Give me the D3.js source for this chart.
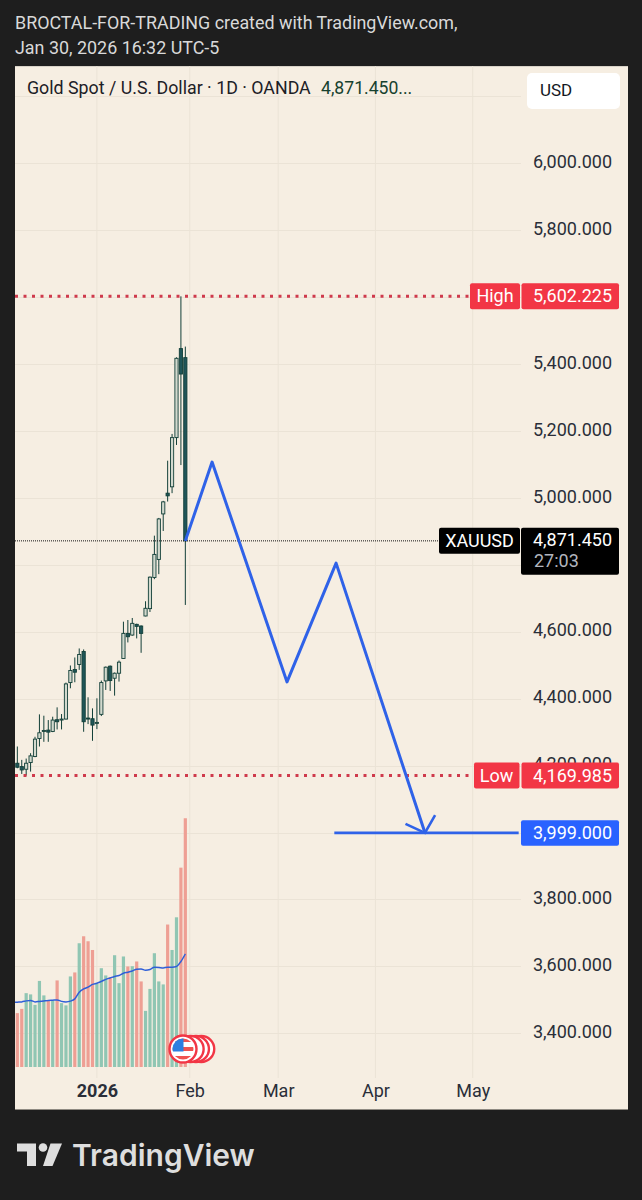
<!DOCTYPE html>
<html>
<head>
<meta charset="utf-8">
<script src="https://cdn.jsdelivr.net/npm/d3@7"></script>
<style>
  html, body { margin: 0; padding: 0; background: #1e1e1e; }
  svg { display: block; font-family: Roboto, sans-serif; }
</style>
</head>
<body>
<div id="chart"></div>
<script>
// Daily candles, oldest first
var opens = [4207,4197,4189,4209,4227,4281,4304,4306,4302,4337,4338,4339,4448,4487,4502,4541,4342,4340,4327,4353,4453,4497,4461,4476,4520,4595,4590,4622,4617,4647,4669,4762,4816,4952,5014,5033,5180,5446,5419];
var highs = [4257,4217,4221,4237,4286,4353,4349,4336,4346,4374,4354,4448,4499,4523,4550,4547,4404,4371,4401,4454,4496,4499,4478,4514,4630,4635,4641,4624,4619,4691,4765,4887,4940,4991,5111,5191,5420,5602.225,5452];
var lows = [4192,4175,4169.985,4182,4225,4257,4271,4271,4300,4308,4308,4338,4431,4449,4486,4301,4324,4274,4309,4348,4426,4423,4409,4451,4519,4568,4588,4580,4537,4646,4659,4757,4772,4901,4989,5014,5158,5098,4680];
var closes = [4195,4187,4207,4229,4279,4298,4305,4300,4336,4331,4339,4444,4484,4479,4532,4331,4340,4321,4329,4448,4494,4454,4476,4509,4595,4585,4625,4616,4595,4670,4763,4831,4937,4988,5006,5180,5417,5370,4871.45];
var volumes = [216,233,296,291,249,345,287,267,267,347,256,247,363,379,496,524,504,469,333,396,367,360,448,336,443,403,404,423,343,225,313,456,343,331,571,469,600,799,997];
var volumeMa = [260,261,265,267,261,263,265,267,268,269,263,261,264,273,300,313,320,331,336,343,351,357,363,367,376,380,385,392,393,388,391,400,399,397,400,400,403,423,453];
var volumeMaStart = 259;

var priceTicks = [6000,5800,5600,5400,5200,5000,4800,4600,4400,4200,4000,3800,3600,3400];
var shownPriceTicks = [6000,5800,5400,5200,5000,4600,4400,4200,3800,3600,3400];
var gridOnlyPrice = [6200];
var monthBars = [18,39,59,81,103];
var monthLabels = ["2026","Feb","Mar","Apr","May"];

var highPrice = 5602.225, lowPrice = 4169.985, lastPrice = 4871.45, targetPrice = 3999;
// Hand drawn projection: bar number and price
var pathBars = [38,44.05,61,72.1,92.2];
var pathPrices = [4871.45,5107,4450,4805,3999];
var arrowBars = [87.8,92.2,94.5];
var arrowPrices = [4026,3999,4052];
var targetBars = [71.7,113.4];

var width = 642, height = 1200;
var plotL = 15, plotR = 628, plotT = 66, plotB = 1110, paneR = 521;
var cream = "#f6eee2", gridCol = "#ebe3d6";
var labelSize = 18;

var svg = d3.select("#chart").append("svg").attr("width", width).attr("height", height);
svg.append("rect").attr("width", width).attr("height", height).attr("fill", "#1e1e1e");

svg.append("defs").append("clipPath").attr("id", "pane")
  .append("rect").attr("x", plotL).attr("y", plotT).attr("width", paneR - plotL).attr("height", plotB - plotT);

// Bars are evenly spaced by number, weekends do not exist here
var x = d3.scaleLinear().domain([0, 38]).range([17.33, 185.33]);
var y = d3.scaleLinear().domain([3400, 6000]).range([1033.3, 163.2]);
var yVol = d3.scaleLinear().domain([0, 1000]).range([1067, 817.5]);

svg.append("text").attr("x", 15).attr("y", 29).attr("fill", "#d9d9d9").attr("font-size", 17.9)
  .text("BROCTAL-FOR-TRADING created with TradingView.com,");
svg.append("text").attr("x", 15).attr("y", 54).attr("fill", "#d9d9d9").attr("font-size", 17.9)
  .text("Jan 30, 2026 16:32 UTC-5");

svg.append("rect").attr("x", plotL).attr("y", plotT).attr("width", plotR - plotL).attr("height", plotB - plotT)
  .attr("fill", cream);
svg.append("line").attr("x1", plotL).attr("x2", plotR).attr("y1", plotB - 0.5).attr("y2", plotB - 0.5)
  .attr("stroke", "#8f8a82");
svg.append("line").attr("x1", plotL).attr("x2", plotR).attr("y1", plotT + 0.5).attr("y2", plotT + 0.5)
  .attr("stroke", "#d8d2c8");

// grid
svg.append("g").selectAll("line").data(gridOnlyPrice.concat(priceTicks)).join("line")
  .attr("x1", plotL).attr("x2", paneR)
  .attr("y1", d => Math.round(y(d)) + 0.5).attr("y2", d => Math.round(y(d)) + 0.5)
  .attr("stroke", gridCol);
svg.append("g").selectAll("line").data(monthBars).join("line")
  .attr("x1", d => x(d)).attr("x2", d => x(d))
  .attr("y1", plotT).attr("y2", 1078)
  .attr("stroke", gridCol);

var pane = svg.append("g").attr("clip-path", "url(#pane)");

// volume
pane.selectAll(".vol").data(volumes).join("rect").attr("class", "vol")
  .attr("x", (d, i) => x(i) - 1.6).attr("width", 3.2)
  .attr("y", d => yVol(d)).attr("height", d => yVol(0) - yVol(d))
  .attr("fill", (d, i) => closes[i] >= opens[i] ? "#90c6b3" : "#ee9f94");

// volume moving average, it comes in from the bar before the left edge
var maLine = d3.line().x(d => x(d[0])).y(d => yVol(d[1])).curve(d3.curveMonotoneX);
var maPts = [[-1, volumeMaStart]].concat(volumeMa.map((d, i) => [i, d]));
pane.append("path").attr("d", maLine(maPts)).attr("fill", "none")
  .attr("stroke", "#2f5fd8").attr("stroke-width", 1.5);

// candles
var candleCol = "#123f38";
pane.selectAll(".wick").data(d3.range(opens.length)).join("line").attr("class", "wick")
  .attr("x1", i => x(i)).attr("x2", i => x(i))
  .attr("y1", i => y(highs[i])).attr("y2", i => y(lows[i]))
  .attr("stroke", candleCol).attr("stroke-width", 1);
pane.selectAll(".body").data(d3.range(opens.length)).join("rect").attr("class", "body")
  .attr("x", i => x(i) - 1.6).attr("width", 3.2)
  .attr("y", i => y(Math.max(opens[i], closes[i])))
  .attr("height", i => Math.max(1, Math.abs(y(opens[i]) - y(closes[i]))))
  .attr("fill", i => closes[i] >= opens[i] ? "#d3d9ce" : "#1f5558")
  .attr("stroke", candleCol).attr("stroke-width", 0.9);

// last price line
svg.append("line").attr("x1", plotL).attr("x2", 439).attr("y1", y(lastPrice)).attr("y2", y(lastPrice))
  .attr("stroke", "#111").attr("stroke-width", 1).attr("stroke-dasharray", "1 1");

// high and low lines
svg.append("g").selectAll("line").data([highPrice, lowPrice]).join("line")
  .attr("x1", plotL).attr("x2", 470)
  .attr("y1", d => y(d)).attr("y2", d => y(d))
  .attr("stroke", "#cf3a4c").attr("stroke-width", 3).attr("stroke-dasharray", "3 5.5");

// projection drawn over the chart
var projLine = d3.line().x(d => x(d[0])).y(d => y(d[1]));
var projCol = "#2f62e8";
svg.append("path").attr("d", projLine(pathBars.map((d, i) => [d, pathPrices[i]])))
  .attr("fill", "none").attr("stroke", projCol).attr("stroke-width", 3).attr("stroke-linejoin", "round");
svg.append("path").attr("d", projLine(arrowBars.map((d, i) => [d, arrowPrices[i]])))
  .attr("fill", "none").attr("stroke", projCol).attr("stroke-width", 2.6);
svg.append("line")
  .attr("x1", x(targetBars[0])).attr("x2", x(targetBars[1]))
  .attr("y1", y(targetPrice)).attr("y2", y(targetPrice))
  .attr("stroke", projCol).attr("stroke-width", 2.6);

// price axis
var yAxis = d3.axisRight(y).tickValues(shownPriceTicks).tickSize(0).tickFormat(d3.format(",.3f"));
var yAxisG = svg.append("g").attr("transform", "translate(612,-1.5)").call(yAxis);
yAxisG.select(".domain").remove();
yAxisG.selectAll("text").attr("x", 0).attr("text-anchor", "end")
  .attr("font-family", "Roboto, sans-serif").attr("font-size", labelSize).attr("fill", "#2a2e39");

// time axis
var xAxis = d3.axisBottom(x).tickValues(monthBars).tickSize(0)
  .tickFormat((d, i) => monthLabels[i]);
var xAxisG = svg.append("g").attr("transform", "translate(0,1078)").call(xAxis);
xAxisG.select(".domain").remove();
xAxisG.selectAll("text").attr("y", 6).attr("font-family", "Roboto, sans-serif").attr("font-size", labelSize)
  .attr("fill", "#2a2e39").attr("font-weight", (d, i) => i == 0 ? 700 : 400);

// price tags
function tag(x0, x1, yTop, yBot, col, txt, txtX, anchor) {
  svg.append("rect").attr("x", x0).attr("y", yTop).attr("width", x1 - x0).attr("height", yBot - yTop)
    .attr("rx", 2).attr("fill", col);
  svg.append("text").attr("x", txtX).attr("y", (yTop + yBot) / 2 + 6).attr("text-anchor", anchor)
    .attr("font-size", labelSize).attr("fill", "#fff").text(txt);
}
var fmt = d3.format(",.3f");
tag(470, 520, y(highPrice) - 13, y(highPrice) + 13, "#f23645", "High", 495, "middle");
tag(521.5, 619, y(highPrice) - 13, y(highPrice) + 13, "#f23645", fmt(highPrice), 612, "end");
tag(474, 519.5, y(lowPrice) - 13, y(lowPrice) + 13, "#f23645", "Low", 496.5, "middle");
tag(521.5, 619, y(lowPrice) - 13, y(lowPrice) + 13, "#f23645", fmt(lowPrice), 612, "end");
tag(521, 619, y(targetPrice) - 12.5, y(targetPrice) + 13, "#2962ff", fmt(targetPrice), 612, "end");
tag(439, 520, y(lastPrice) - 13, y(lastPrice) + 13, "#000", "XAUUSD", 479.5, "middle");
svg.append("rect").attr("x", 521).attr("y", y(lastPrice) - 13).attr("width", 98).attr("height", 47)
  .attr("rx", 2).attr("fill", "#000");
svg.append("text").attr("x", 612).attr("y", y(lastPrice) + 5).attr("text-anchor", "end")
  .attr("font-size", labelSize).attr("fill", "#fff").text(fmt(lastPrice));
svg.append("text").attr("x", 534).attr("y", y(lastPrice) + 26).attr("font-size", labelSize)
  .attr("fill", "#b2b5be").text("27:03");

// legend
svg.append("text").attr("x", 27).attr("y", 94).attr("font-size", 17.8).attr("fill", "#1c2026")
  .text("Gold Spot / U.S. Dollar · 1D · OANDA");
svg.append("text").attr("x", 321).attr("y", 94).attr("font-size", 17.6).attr("fill", "#17412f")
  .text("4,871.450...");
svg.append("rect").attr("x", 527).attr("y", 73).attr("width", 93).attr("height", 36).attr("rx", 5).attr("fill", "#fff");
svg.append("text").attr("x", 540).attr("y", 96).attr("font-size", 17).attr("fill", "#131722").text("USD");

// US event flags stacked at the right edge of the data
var flagBars = [41.6, 40.4, 39.2];
var flags = svg.append("g");
flagBars.forEach(function (b) {
  flags.append("circle").attr("cx", x(b)).attr("cy", 1049).attr("r", 13).attr("fill", "#fff")
    .attr("stroke", "#f23645").attr("stroke-width", 2.4);
});
var fx = 183, fy = 1049;
var flagClip = svg.select("defs").append("clipPath").attr("id", "flag");
flagClip.append("circle").attr("cx", fx).attr("cy", fy).attr("r", 10.5);
flags.append("circle").attr("cx", fx).attr("cy", fy).attr("r", 13.5).attr("fill", "#fff")
  .attr("stroke", "#f23645").attr("stroke-width", 2.4);
var flagG = flags.append("g").attr("clip-path", "url(#flag)");
flagG.append("rect").attr("x", fx - 11).attr("y", fy - 2).attr("width", 22).attr("height", 4).attr("fill", "#f0524f");
flagG.append("rect").attr("x", fx - 11).attr("y", fy + 7).attr("width", 22).attr("height", 5).attr("fill", "#f0524f");
flagG.append("rect").attr("x", fx - 11).attr("y", fy - 11).attr("width", 22).attr("height", 4).attr("fill", "#f0524f");
flagG.append("rect").attr("x", fx - 11).attr("y", fy - 11).attr("width", 11.5).attr("height", 13.5).attr("fill", "#2d7fe0");

// TradingView logo
var logo = svg.append("g").attr("fill", "#dedede");
logo.append("path").attr("d", "M17 1143.5H36V1166H27V1151.5H17Z");
logo.append("circle").attr("cx", 43).attr("cy", 1147.5).attr("r", 4.3);
logo.append("path").attr("d", "M50.5 1143.5H62L52.5 1166H43Z");
svg.append("text").attr("x", 72).attr("y", 1166).attr("font-family", "Inter, sans-serif")
  .attr("font-size", 30).attr("font-weight", 600).attr("fill", "#dedede").text("TradingView");
</script>
</body>
</html>
